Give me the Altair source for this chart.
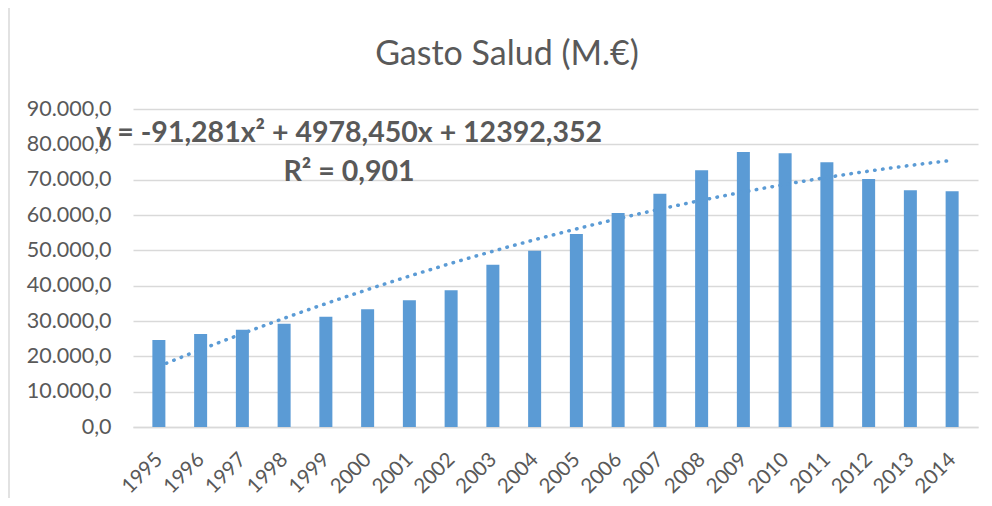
import altair as alt
import pandas as pd

years = list(range(1995, 2015))
gasto = [24600, 26300, 27500, 29200, 31200, 33300, 35900, 38700, 45900, 49900,
         54600, 60600, 66000, 72700, 77800, 77500, 74900, 70200, 67000, 66700]
y_ticks = [0, 10000, 20000, 30000, 40000, 50000, 60000, 70000, 80000, 90000]
title_text = "Gasto Salud (M.€)"
eq_text = "y = -91,281x² + 4978,450x + 12392,352"
r2_text = "R² = 0,901"

df = pd.DataFrame({"year": years, "value": gasto})

FONT = "Lato"
GREY = "#595959"
BLUE = "#5b9bd5"
GRID = "#d9d9d9"

x = alt.X(
    "year:Q",
    scale=alt.Scale(domain=[1994.5, 2014.5], nice=False, zero=False),
    axis=alt.Axis(values=years, format="d", labelAngle=-45, title=None, grid=False,
                  ticks=False, tickSize=0, domainColor=GRID, domainWidth=1.5,
                  labelOverlap=False, labelFlush=False, labelBound=False,
                  labelFontSize=20.5, labelColor=GREY, labelFont=FONT,
                  labelPadding=22, labelOffset=-7),
)
y = alt.Y(
    "value:Q",
    scale=alt.Scale(domain=[0, 90000], nice=False),
    axis=alt.Axis(values=y_ticks, tickCount=10,
                  labelExpr="datum.value == 0 ? '0,0' : format(datum.value / 1000, 'd') + '.000,0'",
                  labelOverlap=False, labelFlush=False, labelBound=False,
                  title=None, domain=False, ticks=False, tickSize=0, gridColor=GRID, gridWidth=1.5,
                  labelFontSize=21.5, labelColor=GREY, labelFont=FONT, labelPadding=22),
)

bars = alt.Chart(df).mark_bar(size=13, color=BLUE).encode(x=x, y=y)

trend = (
    alt.Chart(df)
    .transform_regression("year", "value", method="poly", order=2)
    .mark_line(color=BLUE, strokeWidth=3.5, strokeDash=[0.5, 7.5], strokeCap="round")
    .encode(x=x, y=y)
)

title_mark = (
    alt.Chart(pd.DataFrame({"t": [title_text]}))
    .mark_text(font=FONT, fontSize=34, color=GREY)
    .encode(text="t:N", x=alt.value(374), y=alt.value(-54))
)
eq_mark = (
    alt.Chart(pd.DataFrame({"t": [eq_text]}))
    .mark_text(font=FONT, fontSize=28.5, fontWeight="bold", color=GREY)
    .encode(text="t:N", x=alt.value(216), y=alt.value(24))
)
r2_mark = (
    alt.Chart(pd.DataFrame({"t": [r2_text]}))
    .mark_text(font=FONT, fontSize=28.5, fontWeight="bold", color=GREY)
    .encode(text="t:N", x=alt.value(216), y=alt.value(63))
)
border = (
    alt.Chart(pd.DataFrame({"a": [0]}))
    .mark_rule(color=GRID, strokeWidth=1.5)
    .encode(x=alt.value(-124), y=alt.value(-101), y2=alt.value(389))
)

chart = (
    alt.layer(bars, trend, title_mark, eq_mark, r2_mark, border)
    .properties(
        width=845,
        height=318,
        autosize=alt.AutoSizeParams(type="none"),
        padding={"left": 125, "top": 101, "right": 5, "bottom": 72},
    )
    .configure_view(stroke=None)
)

chart.save("out.html", embed_options={"renderer": "svg", "actions": False})
